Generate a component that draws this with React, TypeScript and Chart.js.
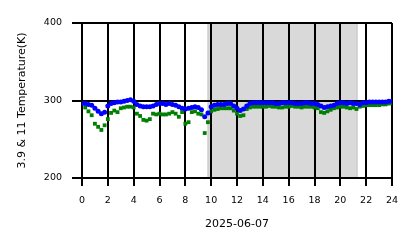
import React, { useEffect, useRef } from "react";
import { Chart, registerables } from "chart.js";

Chart.register(...registerables);

const hours = [
  0, 0.25, 0.5, 0.75, 1, 1.25, 1.5, 1.75, 2, 2.25, 2.5, 2.75,
  3, 3.25, 3.5, 3.75, 4, 4.25, 4.5, 4.75, 5, 5.25, 5.5, 5.75,
  6, 6.25, 6.5, 6.75, 7, 7.25, 7.5, 7.75, 8, 8.25, 8.5, 8.75,
  9, 9.25, 9.5, 9.75, 10, 10.25, 10.5, 10.75, 11, 11.25, 11.5, 11.75,
  12, 12.25, 12.5, 12.75, 13, 13.25, 13.5, 13.75, 14, 14.25, 14.5, 14.75,
  15, 15.25, 15.5, 15.75, 16, 16.25, 16.5, 16.75, 17, 17.25, 17.5, 17.75,
  18, 18.25, 18.5, 18.75, 19, 19.25, 19.5, 19.75, 20, 20.25, 20.5, 20.75,
  21, 21.25, 21.5, 21.75, 22, 22.25, 22.5, 22.75, 23, 23.25, 23.5, 23.75,
  24,
];

// 3.9 µm brightness temperature (K)
const blueK = [
  296, 296, 295, 294, 290, 286, 283, 285, 293, 296, 297, 298,
  298, 299, 300, 301, 299, 295, 293, 292, 292, 292, 293, 295,
  296, 296, 295, 296, 295, 294, 292, 290, 289, 290, 291, 292,
  291, 288, 279, 284, 292, 294, 295, 295, 295, 296, 296, 293,
  290, 287, 289, 293, 296, 297, 297, 297, 297, 297, 297, 297,
  296, 296, 297, 297, 297, 297, 296, 296, 296, 297, 297, 296,
  296, 295, 293, 291, 292, 293, 294, 296, 297, 297, 296, 297,
  296, 296, 295, 297, 297, 298, 298, 298, 298, 298, 298, 299,
  299,
];

// 11 µm brightness temperature (K)
const greenK = [
  null, 291, 286, 281, 270, 266, 262, 268, 276, 284, 287, 285,
  290, 291, 292, 292, 291, 283, 280, 275, 274, 276, 283, 282,
  283, 282, 282, 283, 285, 283, 279, 285, 270, 272, 285, 286,
  283, 282, 258, 272, 286, 288, 289, 290, 290, 290, 290, 287,
  283, 280, 281, 289, 291, 292, 292, 292, 292, 292, 293, 292,
  292, 291, 291, 292, 292, 293, 292, 292, 291, 292, 292, 292,
  291, 290, 285, 284, 286, 288, 290, 291, 292, 292, 291, 290,
  291, 289, 292, 293, 294, 294, 294, 294, 294, 295, 295, 296,
  297,
];

const xTicks = [0, 2, 4, 6, 8, 10, 12, 14, 16, 18, 20, 22, 24];
const yTicks = [200, 300, 400];
const shadeStart = 9.72;
const shadeEnd = 21.33;
const dateLabel = "2025-06-07";
const yTitle = "3.9 & 11 Temperature(K)";

const FONT = "'DejaVu Sans', sans-serif";

export default function App() {
  const ref = useRef<HTMLCanvasElement | null>(null);

  useEffect(() => {
    document.body.style.margin = "0";
    const canvas = ref.current;
    if (!canvas) return;

    const shadePlugin = {
      id: "shade",
      beforeDraw(chart: any) {
        const { ctx, chartArea, scales } = chart;
        const x0 = scales.x.getPixelForValue(shadeStart);
        const x1 = scales.x.getPixelForValue(shadeEnd);
        ctx.save();
        ctx.fillStyle = "#d9d9d9";
        ctx.fillRect(x0, chartArea.top, x1 - x0, chartArea.bottom - chartArea.top);
        ctx.strokeStyle = "#c6c6c6";
        ctx.lineWidth = 1;
        ctx.beginPath();
        ctx.moveTo(x0 + 0.5, chartArea.top);
        ctx.lineTo(x0 + 0.5, chartArea.bottom);
        ctx.moveTo(x1 - 0.5, chartArea.top);
        ctx.lineTo(x1 - 0.5, chartArea.bottom);
        ctx.stroke();
        ctx.restore();
      },
    };

    const chart = new Chart(canvas, {
      type: "scatter",
      data: {
        datasets: [
          {
            label: "3.9",
            data: hours.map((h, i) => ({ x: h, y: blueK[i] })),
            backgroundColor: "#0000ff",
            borderColor: "#0000ff",
            pointRadius: 2.5,
            pointBorderWidth: 0,
            pointStyle: "circle",
            showLine: false,
          },
          {
            label: "11",
            data: hours.map((h, i) => ({ x: h, y: greenK[i] as any })),
            backgroundColor: "#008000",
            borderColor: "#008000",
            pointRadius: 2.7,
            pointBorderWidth: 0,
            pointStyle: "rect",
            showLine: false,
          },
        ],
      },
      options: {
        responsive: false,
        animation: false,
        layout: { padding: { left: 0, top: 23, right: 26, bottom: 0 } },
        plugins: {
          legend: { display: false },
          tooltip: { enabled: false },
        },
        scales: {
          x: {
            type: "linear",
            min: 0,
            max: 24,
            afterBuildTicks(scale: any) {
              scale.ticks = xTicks.map((v) => ({ value: v }));
            },
            afterFit(scale: any) {
              scale.height = 70;
            },
            grid: {
              color: "#000000",
              lineWidth: 2,
              tickLength: 8,
              drawTicks: true,
            },
            border: { display: false },
            ticks: {
              color: "#000000",
              font: { family: FONT, size: 9.5 },
              padding: 9,
              maxRotation: 0,
              autoSkip: false,
            },
            title: {
              display: true,
              text: dateLabel,
              color: "#000000",
              font: { family: FONT, size: 11 },
              padding: { top: 0, bottom: 17 },
            },
          },
          y: {
            type: "linear",
            min: 200,
            max: 400,
            afterBuildTicks(scale: any) {
              scale.ticks = yTicks.map((v) => ({ value: v }));
            },
            afterFit(scale: any) {
              scale.width = 82;
            },
            grid: {
              color: "#000000",
              lineWidth: 2,
              tickLength: 10,
              drawTicks: true,
            },
            border: { display: false },
            ticks: {
              color: "#000000",
              font: { family: FONT, size: 9.5 },
              padding: 10,
            },
            title: {
              display: true,
              text: yTitle,
              color: "#000000",
              font: { family: FONT, size: 11 },
              padding: { top: 16, bottom: 0 },
            },
          },
        },
      },
      plugins: [shadePlugin],
    });

    return () => chart.destroy();
  }, []);

  return (
    <div style={{ position: "absolute", left: 0, top: 0, width: 418, height: 248 }}>
      <canvas ref={ref} width={418} height={248} style={{ width: 418, height: 248 }} />
    </div>
  );
}
